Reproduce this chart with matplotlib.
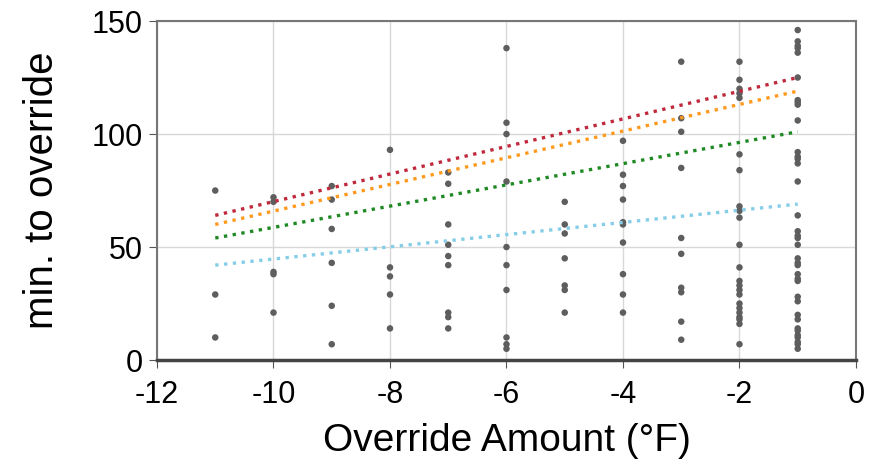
import numpy as np
import matplotlib.pyplot as plt

plt.rcParams['font.family'] = ['Liberation Sans Narrow', 'Liberation Sans', 'DejaVu Sans']
plt.rcParams['axes.unicode_minus'] = False

# minutes until override, grouped by override amount (deg F)
amounts = [-11, -10, -9, -8, -7, -6, -5, -4, -3, -2, -1]
minutes = {
    -11: [75, 29, 10],
    -10: [72, 70, 39, 38, 21],
    -9: [77, 71, 58, 43, 24, 7],
    -8: [93, 41, 37, 29, 14],
    -7: [83, 78, 60, 51, 46, 42, 21, 19, 14],
    -6: [138, 105, 100, 79, 50, 42, 31, 10, 7, 5],
    -5: [70, 60, 56, 45, 33, 31, 21],
    -4: [97, 82, 77, 71, 61, 60, 52, 38, 29, 21],
    -3: [132, 107, 101, 85, 54, 47, 32, 30, 17, 9],
    -2: [132, 124, 120, 118, 116, 91, 84, 68, 66, 63, 51, 41, 35, 33, 31, 29,
         25, 23, 21, 19, 18, 16, 7],
    -1: [146, 141, 139, 138, 136, 125, 115, 114, 113, 106, 92, 90, 89, 87, 79,
         64, 57, 55, 54, 51, 45, 43, 42, 38, 36, 35, 28, 26, 20, 18, 14, 13, 11,
         10, 8, 7, 5],
}

# fitted trend lines: value at x=-11 and x=-1
line_x = [-11, -1]
red_line = [64, 125]
orange_line = [60, 119]
green_line = [54, 101]
blue_line = [42, 69]

fig = plt.figure(figsize=(8.84, 4.67), dpi=100)
ax = fig.add_axes([0.1776, 0.229, 0.7907, 0.726])

xs = np.concatenate([[a] * len(minutes[a]) for a in amounts])
ys = np.concatenate([minutes[a] for a in amounts])
ax.scatter(xs, ys, s=22, color='#5e5e5e', edgecolors='none', zorder=3)

ax.plot(line_x, red_line, ls=':', lw=2.4, color='#c0283c', zorder=4)
ax.plot(line_x, orange_line, ls=':', lw=2.4, color='#ff9a1e', zorder=4)
ax.plot(line_x, green_line, ls=':', lw=2.4, color='#1f8a24', zorder=4)
ax.plot(line_x, blue_line, ls=':', lw=2.4, color='#86cde8', zorder=4)

ax.set_xlim(-12, 0)
ax.set_ylim(0, 150)
ax.set_xticks(range(-12, 1, 2))
ax.set_yticks([0, 50, 100, 150])
ax.grid(True, color='#d8d8d8', lw=1)
ax.set_axisbelow(True)
for sp in ax.spines.values():
    sp.set_color('#777777')
    sp.set_linewidth(1.5)
ax.spines['bottom'].set_color('#444444')
ax.spines['bottom'].set_linewidth(2.5)
ax.tick_params(labelsize=22, length=6, color='#555555')
ax.tick_params(axis='x', pad=8)
ax.tick_params(axis='y', pad=4)

ax.set_xlabel('Override Amount (°F)', fontsize=28, labelpad=10)
ax.set_ylabel('min. to override', fontsize=29, labelpad=22)

fig.savefig('out.png', dpi=100)
